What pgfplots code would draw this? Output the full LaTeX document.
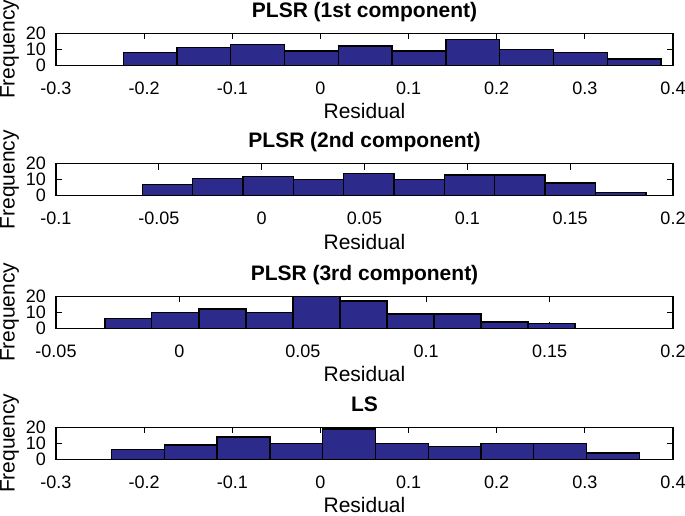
\documentclass[border=0pt]{standalone}
\usepackage{fontspec}
\setmainfont{Liberation Sans}
\usepackage{pgfplots}
\pgfplotsset{compat=1.18}
\definecolor{barblue}{RGB}{44,42,138}
\pgfplotsset{
  hist/.style={
    scale only axis, width=617pt, height=32pt, anchor=north west,
    ymin=0, ymax=20, ytick={0,10,20}, yticklabels={0,10,20},
    tick align=inside, major tick length=6pt,
    xtick pos=both, ytick pos=both,
    axis line style={line width=1.1pt},
    every tick/.style={line width=1pt, black},
    tick label style={font=\fontsize{18}{18}\selectfont, inner sep=0pt},
    xticklabel style={yshift=-16pt},
    yticklabel style={xshift=-10pt},
    xlabel={Residual}, ylabel={Frequency},
    label style={font=\fontsize{21}{21}\selectfont, inner sep=0pt},
    xlabel style={at={(axis description cs:0.5,0)}, anchor=north, yshift=-38pt},
    ylabel style={at={(axis description cs:-0.0907,0.5)}, anchor=north},
    title style={at={(axis description cs:0.5,1)}, anchor=base, yshift=10pt,
      font=\bfseries\fontsize{21}{21}\selectfont, inner sep=0pt},
  },
  bars/.style={ybar interval, fill=barblue, draw=black, line width=1.3pt},
}
\begin{document}
\begin{tikzpicture}
\useasboundingbox (0,0) rectangle (685pt,-516pt);
% Panel 1
\begin{axis}[hist, at={(56pt,-33.3pt)}, title={PLSR (1st component)},
  xmin=-0.3, xmax=0.4, xtick={-0.3,-0.2,-0.1,0,0.1,0.2,0.3,0.4},
  xticklabels={-0.3,-0.2,-0.1,0,0.1,0.2,0.3,0.4}]
\addplot[bars] coordinates {
(-0.2238,8) (-0.1628,11) (-0.1018,13) (-0.0407,9) (0.0203,12)
(0.0813,9) (0.1424,16) (0.2034,10) (0.2644,8) (0.3255,4) (0.3865,0)};
\end{axis}
% Panel 2
\begin{axis}[hist, at={(56pt,-163.8pt)}, title={PLSR (2nd component)},
  xmin=-0.1, xmax=0.2, xtick={-0.1,-0.05,0,0.05,0.1,0.15,0.2},
  xticklabels={-0.1,-0.05,0,0.05,0.1,0.15,0.2}]
\addplot[bars] coordinates {
(-0.0581,7) (-0.0336,11) (-0.0091,12) (0.0154,10) (0.0399,14)
(0.0643,10) (0.0888,13) (0.1133,13) (0.1378,8) (0.1623,2) (0.1868,0)};
\end{axis}
% Panel 3
\begin{axis}[hist, at={(56pt,-296.3pt)}, title={PLSR (3rd component)},
  xmin=-0.05, xmax=0.2, xtick={-0.05,0,0.05,0.1,0.15,0.2},
  xticklabels={-0.05,0,0.05,0.1,0.15,0.2}]
\addplot[bars] coordinates {
(-0.0302,6) (-0.0112,10) (0.0079,12) (0.0270,10) (0.0460,20)
(0.0651,17) (0.0841,9) (0.1032,9) (0.1222,4) (0.1413,3) (0.1603,0)};
\end{axis}
% Panel 4
\begin{axis}[hist, at={(56pt,-427.3pt)}, title={LS},
  xmin=-0.3, xmax=0.4, xtick={-0.3,-0.2,-0.1,0,0.1,0.2,0.3,0.4},
  xticklabels={-0.3,-0.2,-0.1,0,0.1,0.2,0.3,0.4}]
\addplot[bars] coordinates {
(-0.2370,6) (-0.1771,9) (-0.1172,14) (-0.0573,10) (0.0026,19)
(0.0625,10) (0.1223,8) (0.1822,10) (0.2421,10) (0.3020,4) (0.3619,0)};
\end{axis}
\end{tikzpicture}
\end{document}
